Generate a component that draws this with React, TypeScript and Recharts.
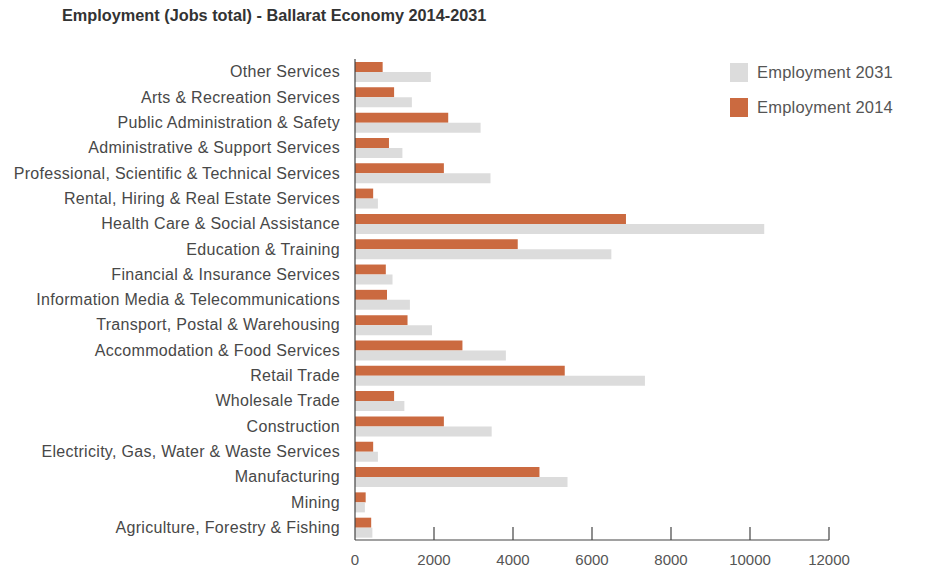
import React from "react";
import { BarChart, Bar, XAxis, YAxis } from "recharts";

const categories = [
  "Other Services",
  "Arts & Recreation Services",
  "Public Administration & Safety",
  "Administrative & Support Services",
  "Professional, Scientific & Technical Services",
  "Rental, Hiring & Real Estate Services",
  "Health Care & Social Assistance",
  "Education & Training",
  "Financial & Insurance Services",
  "Information Media & Telecommunications",
  "Transport, Postal & Warehousing",
  "Accommodation & Food Services",
  "Retail Trade",
  "Wholesale Trade",
  "Construction",
  "Electricity, Gas, Water & Waste Services",
  "Manufacturing",
  "Mining",
  "Agriculture, Forestry & Fishing",
];

const employment2014 = [700, 990, 2360, 860, 2250, 460, 6860, 4120, 780, 810, 1330, 2720, 5310, 990, 2250, 460, 4670, 270, 410];
const employment2031 = [1920, 1440, 3180, 1200, 3430, 580, 10360, 6490, 950, 1390, 1950, 3820, 7340, 1250, 3460, 580, 5380, 250, 440];

const xTicks = [0, 2000, 4000, 6000, 8000, 10000, 12000];

const ORANGE = "#cb6a40";
const GREY = "#dcdcdc";
const FONT = "'Liberation Sans', Arial, Helvetica, sans-serif";

const data = categories.map((name, i) => ({
  name,
  e2014: employment2014[i],
  e2031: employment2031[i],
}));

const XTick = ({ x, y, payload }: any) => (
  <g>
    {payload.value !== 0 && <line x1={x} x2={x} y1={y - 13} y2={y} stroke="#444" strokeWidth={1.2} />}
    <text x={x} y={y + 25} textAnchor="middle" fontSize={15} fill="#555" fontFamily={FONT}>
      {payload.value}
    </text>
  </g>
);

const legendItems = [
  { label: "Employment 2031", color: GREY },
  { label: "Employment 2014", color: ORANGE },
];

export default function App() {
  return (
    <div style={{ position: "absolute", left: 0, top: 0, width: 935, height: 571, background: "#fff" }}>
      <div
        style={{
          position: "absolute",
          left: 62,
          top: 6,
          fontFamily: FONT,
          fontWeight: "bold",
          fontSize: 16.3,
          color: "#333",
        }}
      >
        Employment (Jobs total) - Ballarat Economy 2014-2031
      </div>
      <BarChart
        width={935}
        height={571}
        data={data}
        layout="vertical"
        margin={{ top: 59, right: 106, bottom: 0, left: 0 }}
        barGap={0}
        barSize={10}
      >
        <XAxis
          type="number"
          domain={[0, 12000]}
          ticks={xTicks}
          interval={0}
          axisLine={{ stroke: "#444", strokeWidth: 1.2 }}
          tickLine={false}
          tickSize={0}
          tickMargin={0}
          height={31}
          tick={<XTick />}
        />
        <YAxis
          type="category"
          dataKey="name"
          width={355}
          interval={0}
          axisLine={{ stroke: "#444", strokeWidth: 1.2 }}
          tickLine={false}
          tickMargin={9}
          tick={{ fontSize: 16, fill: "#484848", fontFamily: FONT, letterSpacing: 0.3 }}
        />
        <Bar dataKey="e2014" name="Employment 2014" fill={ORANGE} isAnimationActive={false} />
        <Bar dataKey="e2031" name="Employment 2031" fill={GREY} isAnimationActive={false} />
      </BarChart>
      <div style={{ position: "absolute", left: 730, top: 63, fontFamily: FONT, fontSize: 16.5, color: "#555", letterSpacing: 0.2 }}>
        {legendItems.map((d) => (
          <div key={d.label} style={{ display: "flex", alignItems: "center", height: 19, marginBottom: 16 }}>
            <span style={{ width: 18, height: 19, background: d.color, display: "inline-block", marginRight: 9 }} />
            <span>{d.label}</span>
          </div>
        ))}
      </div>
    </div>
  );
}
